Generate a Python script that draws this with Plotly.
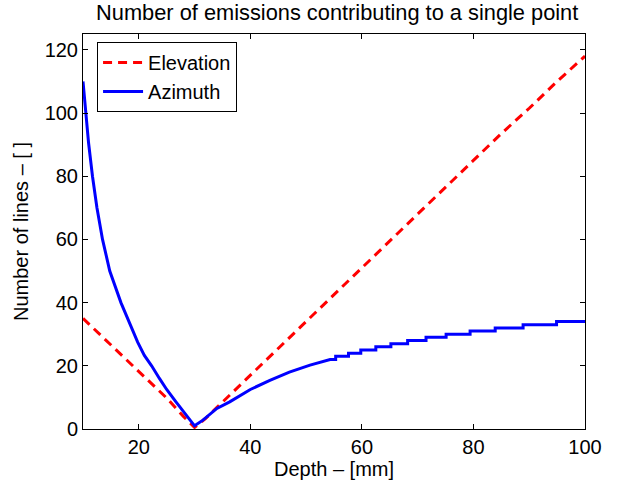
import plotly.graph_objects as go

# Elevation (red dashed)
elev_depth = [10, 15, 20, 25, 28, 30, 32, 35, 40, 45, 50, 55, 60, 65, 70, 75, 80, 85, 90, 95, 100]
elev_lines = [35, 26.5, 18, 9.8, 4, 0.5, 3.4, 8.5, 17, 25.5, 34, 42.5, 51, 59.5, 68, 76.5, 85, 93.5, 101.5, 110, 118]

# Azimuth (blue solid) - steps on the right side
azi_depth = [10, 10.5, 11, 11.7, 12.5, 13.5, 14.8, 16.8, 18, 19.8, 21, 22.3, 23.7, 25, 26.7, 28.5, 30,
             31.5, 33, 34, 36.3, 40, 43.5, 47, 50.7, 54.3,
             55.3, 55.3, 57.6, 57.6, 59.8, 59.8, 62.5, 62.5, 65.2, 65.2, 68.2, 68.2,
             71.5, 71.5, 75.1, 75.1, 79.4, 79.4, 83.9, 83.9, 88.9, 88.9, 94.9, 94.9, 100]
azi_lines = [110, 100, 90.5, 80, 70, 60, 50, 40, 35, 27.5, 23.3, 20, 16, 12.5, 8.5, 4.5, 1,
             2.8, 5, 6.5, 8.6, 12.5, 15.4, 18, 20.2, 22,
             22, 23, 23, 24, 24, 25, 25, 26, 26, 27, 27, 28,
             28, 29, 29, 30, 30, 31, 31, 32, 32, 33, 33, 34, 34]

x_ticks = [20, 40, 60, 80, 100]
y_ticks = [0, 20, 40, 60, 80, 100, 120]

FONT = "Liberation Sans, Arial, Helvetica, sans-serif"

fig = go.Figure()
fig.add_trace(go.Scatter(x=elev_depth, y=elev_lines, mode="lines", name="Elevation",
                         line=dict(color="#ff0000", width=3, dash="9px,6px")))
fig.add_trace(go.Scatter(x=azi_depth, y=azi_lines, mode="lines", name="Azimuth",
                         line=dict(color="#0000ff", width=3)))

axis_common = dict(showline=True, linecolor="black", linewidth=1, mirror="ticks",
                   ticks="inside", ticklen=5, tickcolor="black", showgrid=False,
                   zeroline=False, tickfont=dict(family=FONT, size=20, color="black"))

fig.update_layout(
    width=621, height=489,
    margin=dict(l=83, r=36, t=34, b=60),
    paper_bgcolor="white", plot_bgcolor="white",
    font=dict(family=FONT, size=20, color="black"),
    title=dict(text="Number of emissions contributing to a single point",
               x=0.543, xanchor="center", y=0.975, yanchor="middle",
               font=dict(family=FONT, size=21.8, color="black")),
    xaxis=dict(range=[10, 100], tickvals=x_ticks,
               title=dict(text="Depth \u2013 [mm]", standoff=2, font=dict(size=20)),
               **axis_common),
    yaxis=dict(range=[0, 125], tickvals=y_ticks,
               title=dict(text="Number of lines \u2013 [ ]", standoff=10, font=dict(size=20)),
               **axis_common),
    legend=dict(x=0.028, y=0.98, xanchor="left", yanchor="top",
                bgcolor="white", bordercolor="black", borderwidth=1,
                font=dict(family=FONT, size=20), tracegroupgap=0,
                itemwidth=40),
    showlegend=True,
)

fig.write_html("out.html", config={"displayModeBar": False},
               post_script="document.body.style.margin='0';")
